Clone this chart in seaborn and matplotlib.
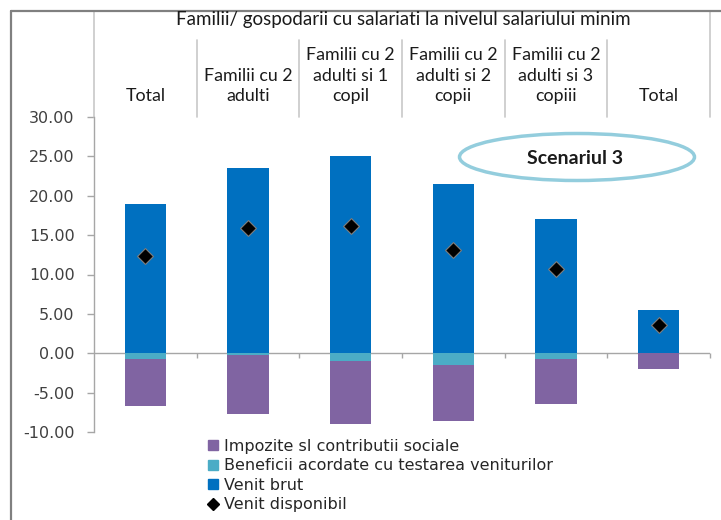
import numpy as np
import pandas as pd
import matplotlib
matplotlib.use("Agg")
import matplotlib.pyplot as plt
import matplotlib.transforms as mtransforms
from matplotlib.patches import Ellipse, Patch
from matplotlib.lines import Line2D
from matplotlib.ticker import FormatStrFormatter, MultipleLocator
import seaborn as sns

# date (Scenariul 3)
grupe = ["Total", "Familii cu 2\nadulti", "Familii cu 2\nadulti si 1\ncopil",
         "Familii cu 2\nadulti si 2\ncopii", "Familii cu 2\nadulti si 3\ncopiii", "Total"]
venit_brut = [18.90, 23.50, 25.10, 21.50, 17.05, 5.55]
beneficii = [-0.67, -0.25, -0.97, -1.52, -0.76, 0.00]
impozite = [-5.98, -7.41, -8.03, -7.08, -5.64, -1.95]
venit_disponibil = [12.30, 15.90, 16.20, 13.10, 10.75, 3.55]
titlu = "Familii/ gospodarii cu salariati la nivelul salariului minim"

c_impozite = "#8064A2"
c_benef = "#4BACC6"
c_brut = "#0070C0"
gri = "#A6A6A6"

df = pd.DataFrame({"poz": np.arange(len(grupe)),
                   "brut": venit_brut,
                   "benef": beneficii,
                   "negativ": np.array(beneficii) + np.array(impozite),
                   "disp": venit_disponibil})

sns.set_style("white")
plt.rcParams["font.family"] = ["DejaVu Sans"]

W, H = 721, 520
fig = plt.figure(figsize=(W / 100, H / 100), dpi=100)
ax = fig.add_axes([94 / W, 1 - 432 / H, (710 - 94) / W, (432 - 117) / H])

# bare stivuite: intai totalul negativ, apoi beneficiile peste
sns.barplot(data=df, x="poz", y="negativ", color=c_impozite, width=0.4,
            saturation=1, ax=ax, edgecolor="none")
sns.barplot(data=df, x="poz", y="benef", color=c_benef, width=0.4,
            saturation=1, ax=ax, edgecolor="none")
sns.barplot(data=df, x="poz", y="brut", color=c_brut, width=0.4,
            saturation=1, ax=ax, edgecolor="none")
sns.scatterplot(data=df, x="poz", y="disp", marker="D", s=65, color="black",
                edgecolor="#7f7f7f", linewidth=0.8, ax=ax, zorder=5)

ax.set_xlim(-0.5, len(grupe) - 0.5)
ax.set_ylim(-10, 30)
ax.yaxis.set_major_locator(MultipleLocator(5))
ax.yaxis.set_major_formatter(FormatStrFormatter("%.2f"))
ax.set_xticks([])
ax.set_xlabel("")
ax.set_ylabel("")
for s in ["top", "right", "bottom"]:
    ax.spines[s].set_visible(False)
ax.spines["left"].set_color(gri)
ax.spines["left"].set_linewidth(1)
ax.tick_params(axis="y", direction="out", length=5, width=1, color=gri,
               labelsize=11.5, labelcolor="#404040", left=True, pad=9)

# axa zero si gradatiile dintre categorii
ax.axhline(0, color=gri, lw=1, zorder=0.5)
granite = np.arange(len(grupe) + 1) - 0.5
ax.vlines(granite[1:], -0.65, 0, color=gri, lw=1, zorder=0.5, clip_on=False)

# capul de tabel
tr = mtransforms.blended_transform_factory(ax.transData, fig.transFigure)
fig.text(403 / W, 1 - 20 / H, titlu, ha="center", va="center",
         fontsize=13.5, family="Lato", color="#1a1a1a")
for i, g in enumerate(grupe):
    ax.text(i, 1 - 101 / H, g, transform=tr, ha="center", va="baseline",
            fontsize=12.8, family="Lato", color="#1a1a1a", linespacing=1.33,
            clip_on=False)
for j, b in enumerate(granite):
    top = 11 if j in (0, len(granite) - 1) else 40
    ax.plot([b, b], [1 - top / H, 1 - 117 / H], transform=tr, color="#C8C8C8",
            lw=1.2, clip_on=False)

# chenarul exterior
fig.add_artist(Line2D([11 / W, 11 / W], [0, 1 - 11 / H], transform=fig.transFigure,
                      color="#808080", lw=1.6))
fig.add_artist(Line2D([11 / W, 1], [1 - 11 / H, 1 - 11 / H], transform=fig.transFigure,
                      color="#808080", lw=1.6))

# eticheta scenariului
fig.add_artist(Ellipse((577 / W, 1 - 157 / H), 235 / W, 47 / H, transform=fig.transFigure,
                       facecolor="white", edgecolor="#93CDDD", lw=2.5))
fig.text(575 / W, 1 - 158 / H, "Scenariul 3", ha="center", va="center",
         fontsize=14, family="Lato", weight="bold", color="#1a1a1a")

# legenda
handles = [Patch(color=c_impozite), Patch(color=c_benef), Patch(color=c_brut),
           Line2D([], [], marker="D", ls="none", color="black", markersize=6)]
labels = ["Impozite sI contributii sociale", "Beneficii acordate cu testarea veniturilor",
          "Venit brut", "Venit disponibil"]
fig.legend(handles, labels, loc="upper left", bbox_to_anchor=(208 / W, 1 - 439 / H),
           frameon=False, fontsize=11.5, handlelength=0.6, handleheight=0.6,
           handletextpad=0.4, labelspacing=0.27, borderaxespad=0, borderpad=0,
           labelcolor="#262626")

fig.savefig("out.png", dpi=100, facecolor="white")
